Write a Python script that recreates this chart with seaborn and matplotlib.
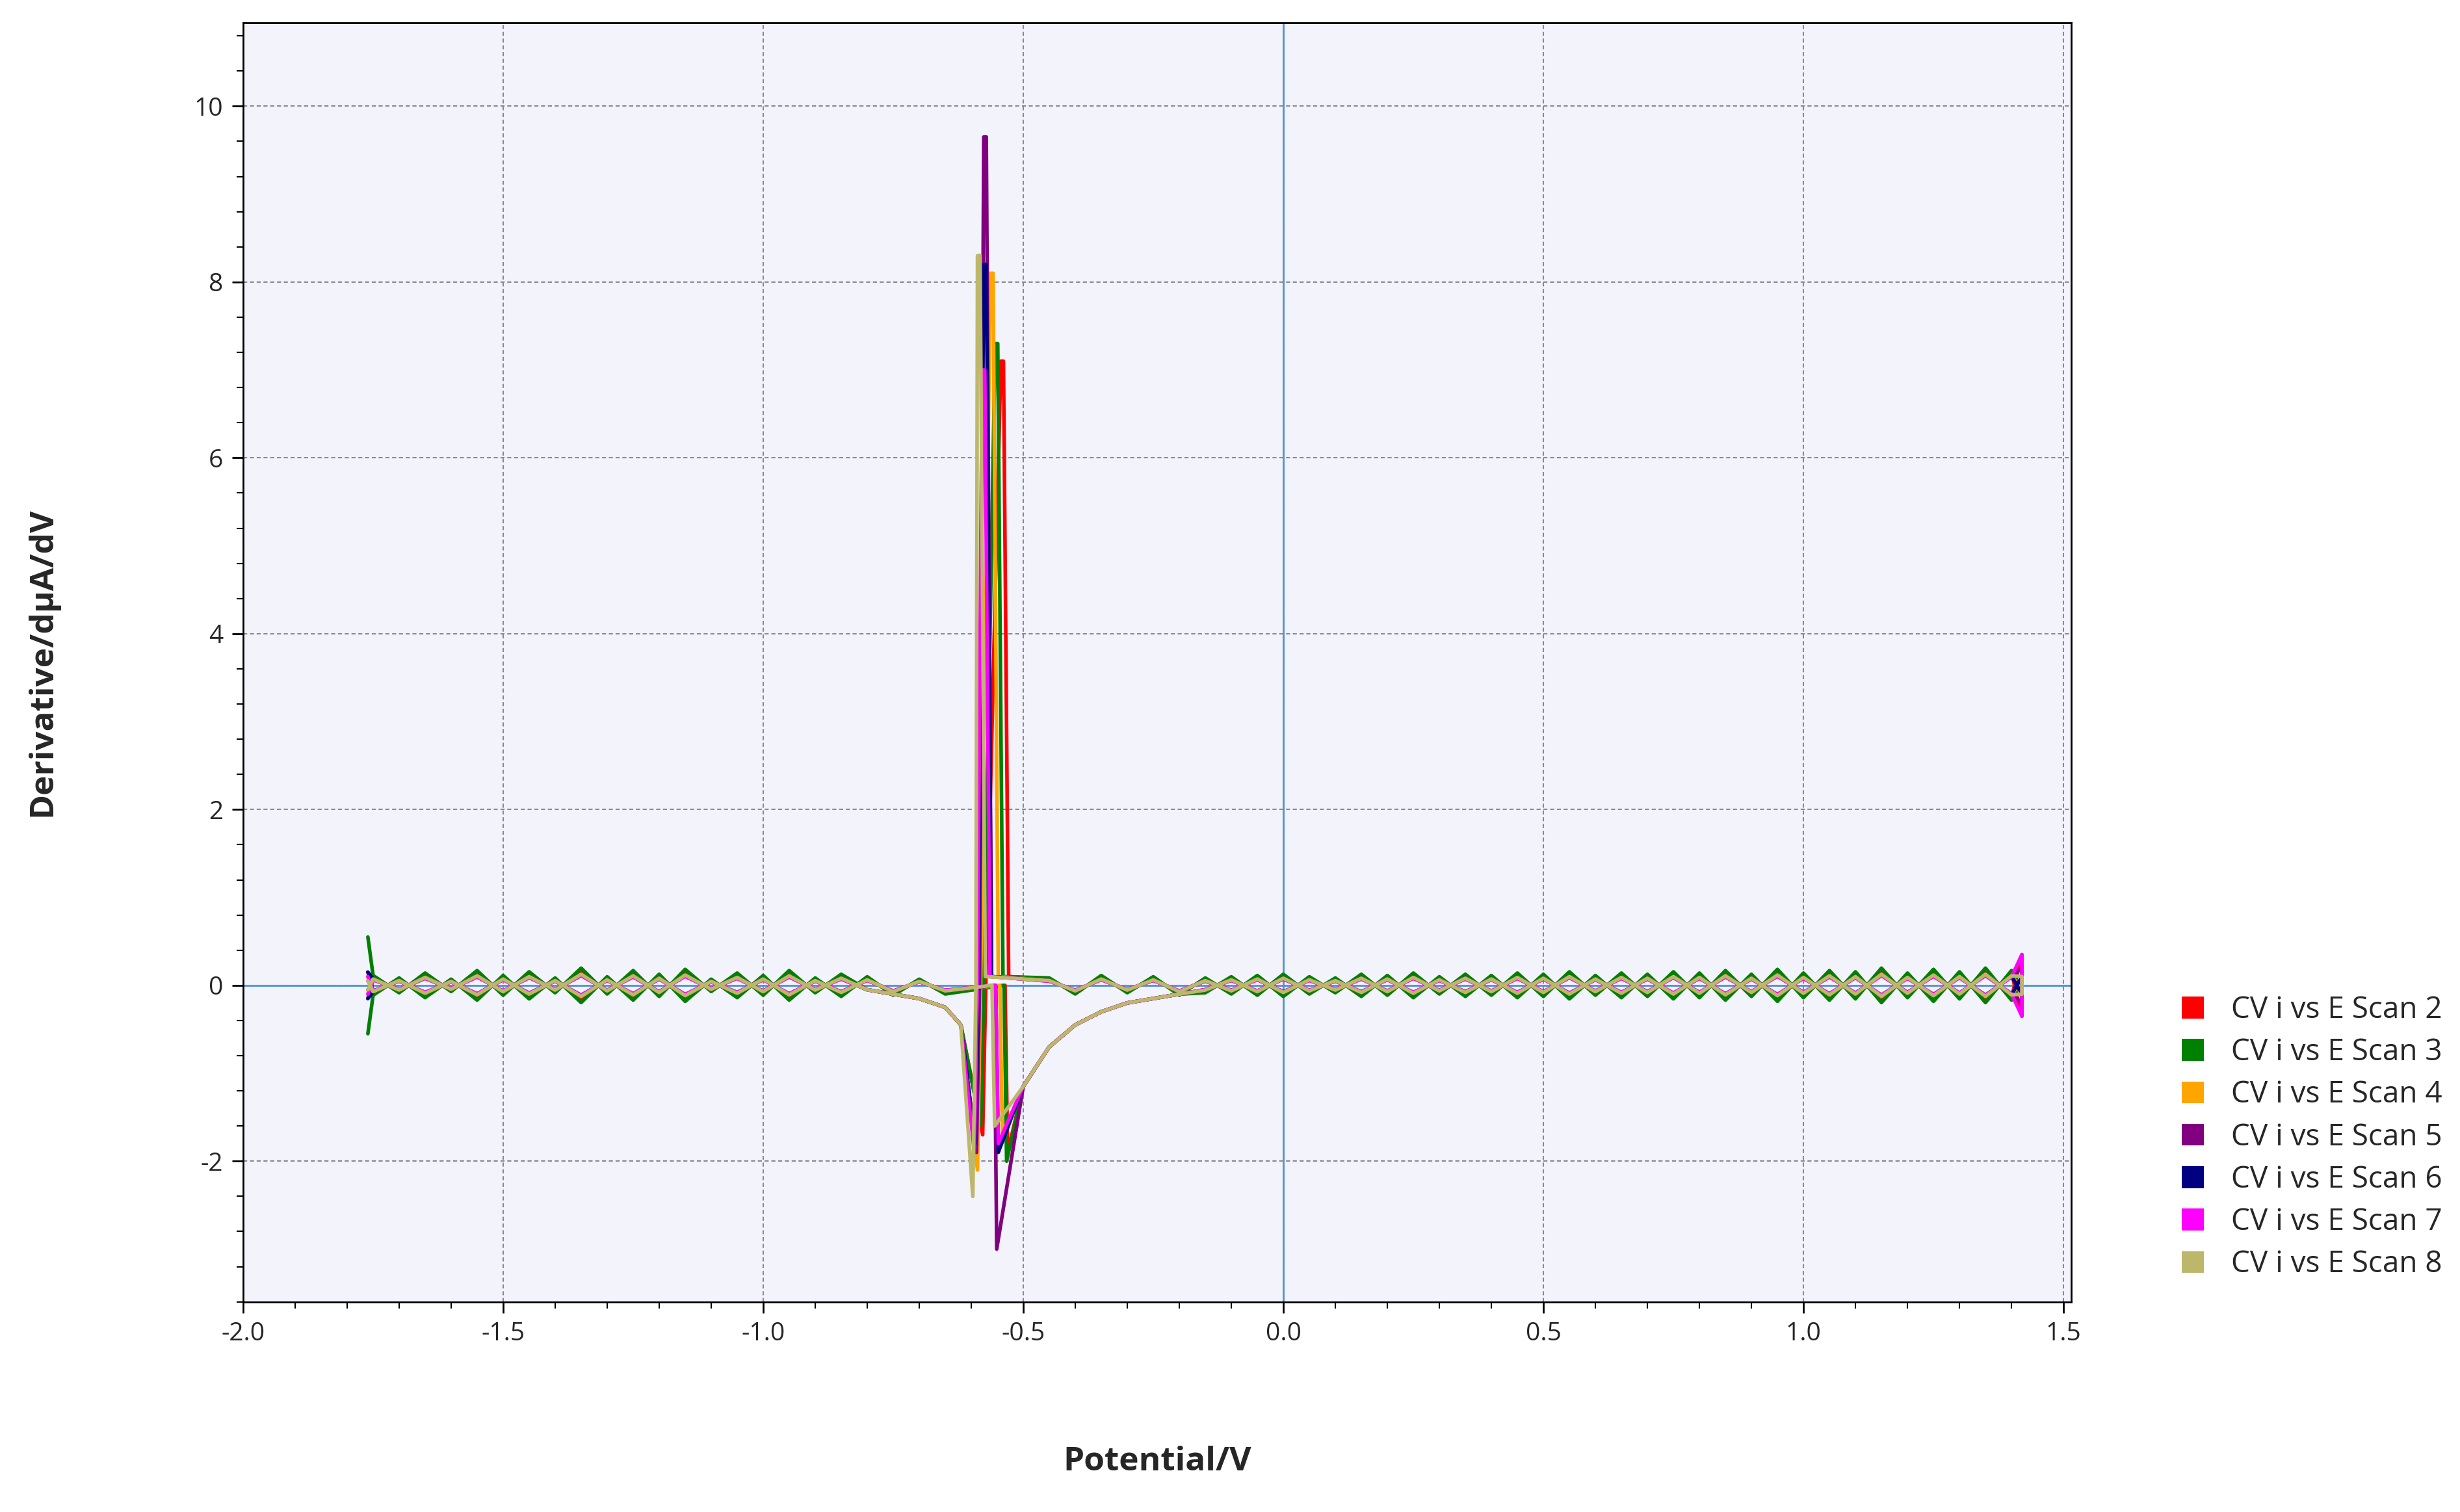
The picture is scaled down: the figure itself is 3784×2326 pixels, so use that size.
import numpy as np
import matplotlib
matplotlib.use("Agg")
import matplotlib.pyplot as plt
import seaborn as sns
from matplotlib.patches import Patch
from matplotlib.ticker import MultipleLocator, FormatStrFormatter

sns.set_theme(style="white")
plt.rcParams['font.family'] = ['Open Sans', 'DejaVu Sans']
plt.rcParams['axes.unicode_minus'] = False

# scans
labels = ["CV i vs E Scan 2", "CV i vs E Scan 3", "CV i vs E Scan 4", "CV i vs E Scan 5",
          "CV i vs E Scan 6", "CV i vs E Scan 7", "CV i vs E Scan 8"]
colors = ["#FF0000", "#008000", "#FFA500", "#800080", "#000080", "#FF00FF", "#BDB76B"]

# spike positions / heights
peak_E = [-0.538, -0.549, -0.558, -0.571, -0.571, -0.574, -0.583]
peak_val = [7.1, 7.3, 8.1, 9.65, 8.2, 7.0, 8.3]
dipA_E = [-0.578, -0.582, -0.588, -0.590, -0.592, -0.594, -0.597]
dipA_val = [-1.7, -1.6, -2.1, -1.9, -1.8, -1.9, -2.4]
dipB_E = [-0.530, -0.532, -0.540, -0.551, -0.548, -0.548, -0.555]
dipB_val = [-1.9, -2.0, -1.7, -3.0, -1.9, -1.8, -1.6]
start_val = [0.05, 0.55, 0.1, -0.15, 0.15, -0.1, -0.05]
end_val = [0.35, 0.1, 0.05, -0.2, 0.1, -0.35, -0.1]
noise_amp = [1.2, 1.4, 0.9, 0.8, 0.9, 0.8, 0.9]

# baseline ripple on the 0.05 V grid, -1.75 ... 1.40 V
grid_E = np.round(np.arange(-1.75, 1.401, 0.05), 2)
ripple = [0.08, -0.06, 0.10, -0.05, 0.12, -0.08, 0.11, -0.06, 0.14, -0.07,
          0.12, -0.09, 0.13, -0.05, 0.10, -0.08, 0.12, -0.06, 0.09, -0.07,
          0.08, -0.05, 0.07, -0.06, 0.08, -0.05, 0.06, -0.07, 0.08, -0.06,
          0.07, -0.08, 0.06, -0.07, 0.08, -0.09, 0.07, -0.06, 0.09, -0.08,
          0.10, -0.07, 0.09, -0.08, 0.10, -0.09, 0.11, -0.08, 0.10, -0.09,
          0.11, -0.10, 0.12, -0.09, 0.13, -0.10, 0.12, -0.11, 0.14, -0.10,
          0.13, -0.11, 0.14, -0.12]
# pre-wave before the cathodic dip (forward branch)
pre_E = [-0.80, -0.75, -0.70, -0.65, -0.62]
pre_val = [-0.05, -0.10, -0.15, -0.25, -0.45]
# tail after the spike (reverse branch), E decreasing
tail_E = [-0.20, -0.25, -0.30, -0.35, -0.40, -0.45, -0.50]
tail_val = [-0.10, -0.15, -0.20, -0.30, -0.45, -0.70, -1.15]

fig = plt.figure(figsize=(37.84, 23.26), dpi=100)
ax = fig.add_axes([0.0988, 0.139, 0.7432, 0.846])
ax.set_facecolor("#f3f3fc")

for i in range(len(labels)):
    rip = np.array(ripple) * noise_amp[i]
    lo = grid_E < -0.81
    hi = grid_E > -0.49
    fE = ([-1.76] + list(grid_E[lo]) + pre_E
          + [dipA_E[i], dipA_E[i] + 0.006, peak_E[i] - 0.005, peak_E[i], peak_E[i] + 0.01]
          + list(grid_E[hi]) + [1.42])
    fV = ([start_val[i]] + list(rip[lo]) + pre_val
          + [dipA_val[i], 0.0, peak_val[i], peak_val[i], 0.1]
          + list(rip[hi]) + [end_val[i]])
    hi2 = grid_E > -0.19
    lo2 = grid_E < -0.61
    rE = ([1.42] + list(grid_E[hi2][::-1]) + tail_E
          + [dipB_E[i], dipB_E[i] - 0.005] + list(grid_E[lo2][::-1]) + [-1.76])
    rV = ([-end_val[i]] + list(-rip[hi2][::-1]) + tail_val
          + [dipB_val[i], 0.0] + list(-rip[lo2][::-1]) + [-start_val[i]])
    E = np.array(fE + rE)
    V = np.array(fV + rV)
    sns.lineplot(x=E, y=V, sort=False, ax=ax, color=colors[i], lw=4, estimator=None)

ax.axhline(0, color="#4a8fe0", lw=2, zorder=0)
ax.axvline(0, color="#4a8fe0", lw=2, zorder=0)

ax.set_xlim(-2.0, 1.515)
ax.set_ylim(-3.6, 10.95)
ax.xaxis.set_major_locator(MultipleLocator(0.5))
ax.xaxis.set_minor_locator(MultipleLocator(0.1))
ax.yaxis.set_major_locator(MultipleLocator(2))
ax.yaxis.set_minor_locator(MultipleLocator(0.4))
ax.xaxis.set_major_formatter(FormatStrFormatter('%.1f'))
ax.yaxis.set_major_formatter(FormatStrFormatter('%d'))
ax.grid(True, which="major", color="#8a8a8a", linestyle=(0, (3, 2)), lw=1.5)
ax.tick_params(which="major", direction="out", length=12, width=2, labelsize=28, color="black", bottom=True, left=True, pad=10)
ax.tick_params(which="minor", direction="out", length=7, width=1.5, color="black", bottom=True, left=True)
for s in ax.spines.values():
    s.set_color("black")
    s.set_linewidth(2)

ax.set_xlabel("Potential/V", fontsize=37, fontweight="bold", labelpad=110)
ax.set_ylabel("Derivative/dμA/dV", fontsize=37, fontweight="bold", labelpad=150)

handles = [Patch(facecolor=c, edgecolor="none") for c in colors]
fig.legend(handles, labels, loc="lower left", bbox_to_anchor=(0.876, 0.136), frameon=False,
           fontsize=33, handlelength=0.75, handleheight=0.75, labelspacing=0.42, handletextpad=0.9)

fig.savefig("out.png", dpi=100)
